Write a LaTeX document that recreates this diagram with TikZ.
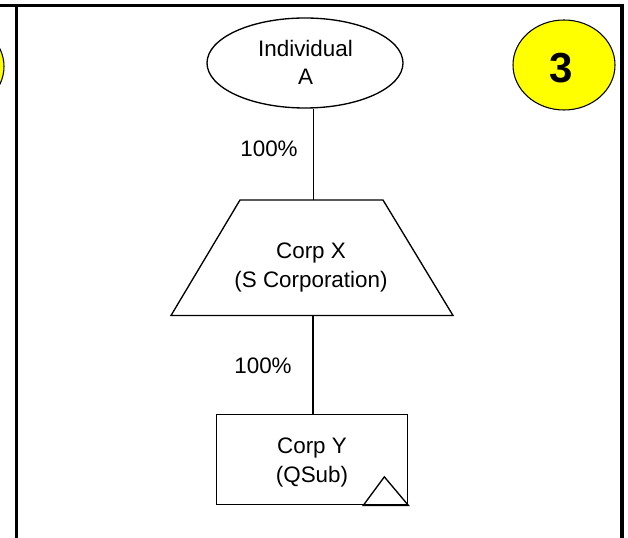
\documentclass[tikz,border=0pt]{standalone}
\usepackage{fontspec}
\setmainfont{Liberation Sans}
\usetikzlibrary{shapes.geometric}
\definecolor{badge}{RGB}{255,255,0}
\tikzset{
  frameline/.style={line width=2.4pt},
  shapeline/.style={line width=1pt, draw=black},
  conn/.style={line width=1pt},
  badgecirc/.style={ellipse, draw=black, line width=0.8pt, fill=badge, minimum width=102*0.75pt, minimum height=90*0.75pt, inner sep=0pt},
  txt/.style={inner sep=0pt, outer sep=0pt, anchor=base, font=\fontsize{16.8}{20}\selectfont},
}
\begin{document}
\begin{tikzpicture}[x=0.75pt,y=-0.75pt]
\useasboundingbox (0,0) rectangle (628,538);
\begin{scope}
\clip (0,0) rectangle (628,538);
% neighbouring panel's badge, cut by the edge
\node[badgecirc] (prevbadge) at (-47,66.5) {};
% frame
\draw[frameline] (0,5.7) -- (622,5.7);
\draw[frameline] (16.3,5.7) -- (16.3,540);
\draw[frameline] (622,4.3) -- (622,540);
\end{scope}
% badge 3
\node[badgecirc] (badge) at (564,65) {};
\node[inner sep=0pt, anchor=base, font=\fontsize{31.5}{36}\bfseries\selectfont] (badgetxt) at (561,83) {3};
% Individual A
\node[ellipse, shapeline, minimum width=196*0.75pt, minimum height=90*0.75pt, inner sep=0pt] (indA) at (305,63) {};
\node[txt] (indA1) at (305.5,57) {Individual};
\node[txt] (indA2) at (305.5,85) {A};
% Corp X trapezoid
\draw[shapeline, line join=miter] (240,200) -- (383,200) -- (453,315.5) -- (171,315.5) -- cycle;
\coordinate (corpXtop) at (313.5,200);
\coordinate (corpXbot) at (313,315.5);
\node[txt] (corpX1) at (311,258) {Corp X};
\node[txt] (corpX2) at (311,287) {(S Corporation)};
% Corp Y
\node[draw, shapeline, rectangle, minimum width=191*0.75pt, minimum height=90*0.75pt, inner sep=0pt, anchor=north west] (corpY) at (216,414) {};
\node[txt] (corpY1) at (312,453) {Corp Y};
\node[txt] (corpY2) at (312,482) {(QSub)};
\draw[shapeline, line join=miter] (corpY.south east) -- ++(-45,0) -- ++(21,-28.5) -- cycle;
% connectors
\draw[conn] (corpXtop) -- (corpXtop |- indA.south);
\draw[conn] (corpXbot) -- (corpXbot |- corpY.north);
% labels
\node[txt] (pct1) at (269,157) {100\%};
\node[txt] (pct2) at (263,373) {100\%};
\end{tikzpicture}
\end{document}
